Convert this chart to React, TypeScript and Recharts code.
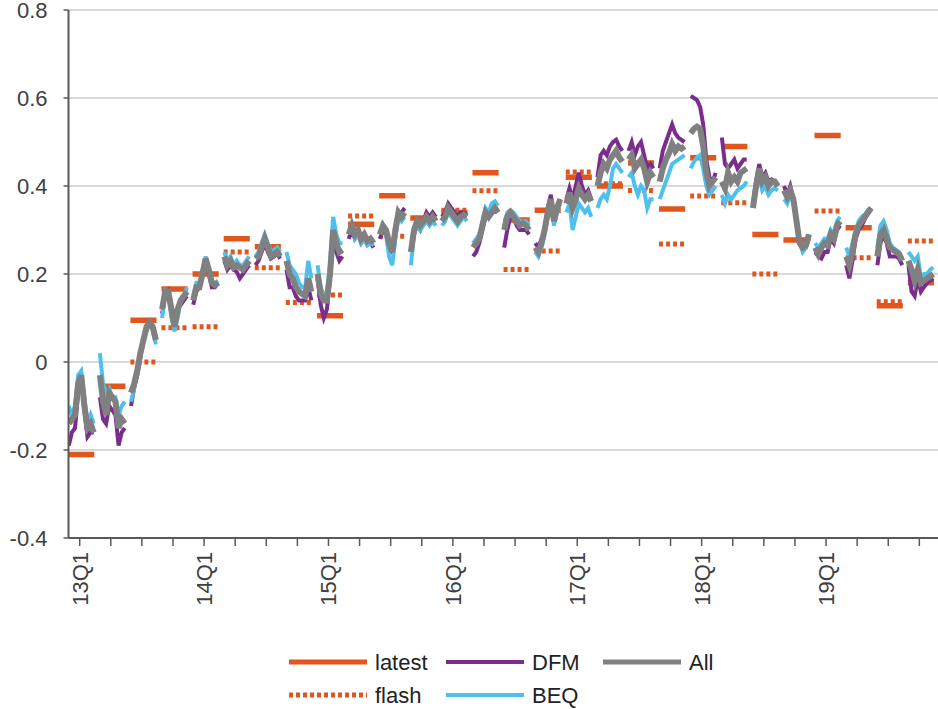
import React from "react"
import { LineChart, Line, XAxis, YAxis, CartesianGrid } from "recharts"

const quarters = [
  "13Q1", "13Q2", "13Q3", "13Q4", "14Q1", "14Q2", "14Q3", "14Q4",
  "15Q1", "15Q2", "15Q3", "15Q4", "16Q1", "16Q2", "16Q3", "16Q4",
  "17Q1", "17Q2", "17Q3", "17Q4", "18Q1", "18Q2", "18Q3", "18Q4",
  "19Q1", "19Q2", "19Q3", "19Q4",
]

// one value per quarter (null = not visible in the picture)
const latest: (number | null)[] = [
  -0.21, -0.055, 0.095, 0.166, 0.2, 0.28, 0.262, null,
  0.105, 0.313, 0.378, 0.327, 0.34, 0.43, 0.323, 0.345,
  0.42, 0.4, 0.452, 0.348, 0.464, 0.49, 0.29, 0.277,
  0.515, 0.305, 0.128, 0.18,
]

const flash: (number | null)[] = [
  null, null, 0.0, 0.078, 0.08, 0.25, 0.214, 0.135,
  0.152, 0.332, 0.286, null, 0.345, 0.389, 0.21, 0.252,
  0.432, 0.405, 0.39, 0.268, 0.377, 0.362, 0.2, null,
  0.343, 0.237, 0.137, 0.275,
]

// nowcasts made during each quarter (9 readings per quarter)
const dfm: number[][] = [
  [-0.19, -0.16, -0.15, -0.07, -0.04, -0.11, -0.17, -0.16, -0.16],
  [-0.08, -0.13, -0.14, -0.1, -0.11, -0.12, -0.19, -0.16, -0.15],
  [-0.1, -0.06, -0.03, 0.01, 0.05, 0.07, 0.09, 0.08, 0.05],
  [0.11, 0.15, 0.16, 0.11, 0.08, 0.12, 0.13, 0.14, 0.15],
  [0.13, 0.16, 0.17, 0.2, 0.23, 0.2, 0.17, 0.17, 0.18],
  [0.23, 0.21, 0.22, 0.21, 0.205, 0.19, 0.2, 0.21, 0.22],
  [0.22, 0.23, 0.25, 0.27, 0.25, 0.235, 0.24, 0.245, 0.235],
  [0.21, 0.17, 0.17, 0.15, 0.14, 0.14, 0.14, 0.17, 0.14],
  [0.19, 0.13, 0.1, 0.12, 0.19, 0.28, 0.25, 0.23, 0.24],
  [0.28, 0.3, 0.28, 0.29, 0.27, 0.28, 0.27, 0.27, 0.26],
  [0.28, 0.3, 0.29, 0.26, 0.25, 0.3, 0.34, 0.34, 0.35],
  [0.25, 0.29, 0.31, 0.3, 0.32, 0.34, 0.33, 0.34, 0.33],
  [0.33, 0.34, 0.36, 0.35, 0.34, 0.33, 0.34, 0.34, 0.335],
  [0.24, 0.25, 0.27, 0.3, 0.33, 0.33, 0.34, 0.35, 0.34],
  [0.26, 0.3, 0.33, 0.33, 0.31, 0.3, 0.3, 0.3, 0.29],
  [0.27, 0.26, 0.28, 0.3, 0.35, 0.38, 0.33, 0.35, 0.37],
  [0.37, 0.395, 0.37, 0.4, 0.43, 0.4, 0.38, 0.39, 0.37],
  [0.42, 0.47, 0.48, 0.47, 0.49, 0.5, 0.505, 0.49, 0.48],
  [0.48, 0.5, 0.47, 0.49, 0.5, 0.47, 0.44, 0.45, 0.44],
  [0.44, 0.48, 0.5, 0.52, 0.54, 0.52, 0.51, 0.505, 0.5],
  [0.605, 0.6, 0.595, 0.58, 0.54, 0.46, 0.42, 0.41, 0.43],
  [0.51, 0.45, 0.44, 0.45, 0.46, 0.44, 0.45, 0.46, 0.46],
  [0.36, 0.41, 0.45, 0.42, 0.43, 0.41, 0.415, 0.41, 0.4],
  [0.4, 0.38, 0.4, 0.37, 0.32, 0.27, 0.26, 0.26, 0.28],
  [0.25, 0.24, 0.235, 0.25, 0.25, 0.28, 0.27, 0.3, 0.31],
  [0.22, 0.19, 0.23, 0.28, 0.3, 0.31, 0.325, 0.34, 0.35],
  [0.22, 0.27, 0.29, 0.27, 0.24, 0.24, 0.24, 0.235, 0.22],
  [0.22, 0.16, 0.15, 0.19, 0.16, 0.17, 0.18, 0.185, 0.19],
]

const beq: number[][] = [
  [-0.1, -0.12, -0.1, -0.03, -0.02, -0.08, -0.14, -0.12, -0.14],
  [0.02, -0.05, -0.07, -0.06, -0.08, -0.08, -0.12, -0.1, -0.09],
  [-0.09, -0.06, -0.02, 0.02, 0.05, 0.08, 0.09, 0.07, 0.04],
  [0.1, 0.16, 0.15, 0.1, 0.07, 0.1, 0.14, 0.15, 0.17],
  [0.15, 0.18, 0.18, 0.21, 0.24, 0.21, 0.18, 0.18, 0.185],
  [0.25, 0.23, 0.24, 0.22, 0.23, 0.22, 0.22, 0.23, 0.24],
  [0.24, 0.25, 0.27, 0.29, 0.27, 0.25, 0.255, 0.26, 0.25],
  [0.25, 0.22, 0.21, 0.2, 0.18, 0.17, 0.17, 0.23, 0.19],
  [0.22, 0.17, 0.15, 0.16, 0.22, 0.33, 0.29, 0.27, 0.27],
  [0.29, 0.31, 0.28, 0.29, 0.27, 0.28, 0.265, 0.27, 0.265],
  [0.29, 0.31, 0.29, 0.24, 0.22, 0.28, 0.33, 0.32, 0.33],
  [0.22, 0.29, 0.31, 0.3, 0.31, 0.32, 0.31, 0.32, 0.31],
  [0.31, 0.32, 0.34, 0.33, 0.32, 0.31, 0.32, 0.33, 0.32],
  [0.27, 0.28, 0.29, 0.32, 0.35, 0.34, 0.36, 0.365, 0.355],
  [0.31, 0.34, 0.345, 0.34, 0.33, 0.32, 0.32, 0.32, 0.31],
  [0.25, 0.24, 0.26, 0.29, 0.33, 0.36, 0.31, 0.34, 0.36],
  [0.34, 0.36, 0.3, 0.33, 0.36, 0.35, 0.34, 0.35, 0.33],
  [0.35, 0.37, 0.38, 0.37, 0.4, 0.44, 0.45, 0.44, 0.43],
  [0.42, 0.43, 0.4, 0.38, 0.4, 0.39, 0.35, 0.37, 0.37],
  [0.37, 0.39, 0.41, 0.43, 0.45, 0.455, 0.46, 0.465, 0.47],
  [0.44, 0.455, 0.465, 0.47, 0.44, 0.4, 0.38, 0.39, 0.4],
  [0.38, 0.36, 0.38, 0.37, 0.38, 0.39, 0.395, 0.4, 0.41],
  [0.35, 0.39, 0.42, 0.39, 0.4, 0.38, 0.39, 0.395, 0.39],
  [0.37, 0.36, 0.38, 0.36, 0.32, 0.27, 0.25, 0.26, 0.29],
  [0.27, 0.26, 0.27, 0.28, 0.28, 0.3, 0.29, 0.32, 0.33],
  [0.26, 0.24, 0.27, 0.3, 0.32, 0.33, 0.335, 0.345, 0.35],
  [0.26, 0.31, 0.32, 0.3, 0.27, 0.26, 0.255, 0.25, 0.235],
  [0.25, 0.24, 0.23, 0.24, 0.19, 0.2, 0.2, 0.21, 0.215],
]

const all: number[][] = [
  [-0.14, -0.13, -0.12, -0.05, -0.03, -0.1, -0.15, -0.14, -0.16],
  [-0.03, -0.09, -0.12, -0.07, -0.08, -0.09, -0.15, -0.13, -0.14],
  [-0.07, -0.05, -0.02, 0.02, 0.05, 0.08, 0.09, 0.08, 0.05],
  [0.12, 0.16, 0.16, 0.12, 0.08, 0.12, 0.14, 0.15, 0.16],
  [0.14, 0.17, 0.17, 0.2, 0.235, 0.21, 0.18, 0.175, 0.18],
  [0.24, 0.22, 0.23, 0.215, 0.22, 0.215, 0.21, 0.22, 0.23],
  [0.235, 0.24, 0.26, 0.28, 0.26, 0.24, 0.245, 0.25, 0.24],
  [0.23, 0.2, 0.19, 0.17, 0.16, 0.155, 0.15, 0.19, 0.16],
  [0.2, 0.155, 0.14, 0.14, 0.2, 0.3, 0.27, 0.25, 0.255],
  [0.29, 0.31, 0.29, 0.3, 0.28, 0.29, 0.275, 0.28, 0.27],
  [0.29, 0.31, 0.3, 0.27, 0.25, 0.3, 0.34, 0.33, 0.34],
  [0.25, 0.3, 0.32, 0.31, 0.32, 0.33, 0.32, 0.33, 0.32],
  [0.32, 0.33, 0.35, 0.34, 0.33, 0.32, 0.33, 0.335, 0.33],
  [0.26, 0.27, 0.28, 0.31, 0.34, 0.33, 0.34, 0.35, 0.34],
  [0.3, 0.33, 0.34, 0.33, 0.32, 0.31, 0.315, 0.31, 0.3],
  [0.26, 0.25, 0.27, 0.3, 0.34, 0.37, 0.32, 0.35, 0.37],
  [0.36, 0.385, 0.35, 0.37, 0.395, 0.38, 0.37, 0.38, 0.365],
  [0.4, 0.43, 0.45, 0.44, 0.46, 0.47, 0.48, 0.465, 0.455],
  [0.46, 0.47, 0.44, 0.45, 0.46, 0.44, 0.41, 0.43, 0.42],
  [0.41, 0.44, 0.46, 0.475, 0.495, 0.48, 0.49, 0.485, 0.49],
  [0.52, 0.53, 0.535, 0.53, 0.49, 0.43, 0.4, 0.41, 0.42],
  [0.41, 0.395, 0.43, 0.41, 0.42, 0.41, 0.43, 0.435, 0.44],
  [0.35, 0.4, 0.44, 0.41, 0.42, 0.4, 0.41, 0.41, 0.4],
  [0.39, 0.375, 0.39, 0.37, 0.32, 0.27, 0.26, 0.265, 0.29],
  [0.26, 0.245, 0.26, 0.27, 0.265, 0.29, 0.28, 0.31, 0.32],
  [0.24, 0.22, 0.25, 0.29, 0.31, 0.32, 0.33, 0.34, 0.35],
  [0.24, 0.29, 0.3, 0.28, 0.26, 0.255, 0.25, 0.245, 0.23],
  [0.23, 0.21, 0.185, 0.21, 0.18, 0.185, 0.19, 0.195, 0.2],
]

const yTicks = [-0.4, -0.2, 0, 0.2, 0.4, 0.6, 0.8]

const ORANGE = "#E0561D"
const PURPLE = "#7B2D8E"
const BLUE = "#4EC0EE"
const GRAY = "#808080"
const AXIS = "#595959"
const FONT = "'Liberation Sans', Arial, sans-serif"

type Row = { x: number; v: number | null }

// a flat bar spanning each quarter
const quarterBars = (values: (number | null)[]): Row[] => {
  const rows: Row[] = []
  values.forEach((v, q) => {
    if (v === null) return
    rows.push({ x: q - 0.37, v }, { x: q + 0.47, v }, { x: q + 0.5, v: null })
  })
  return rows
}

// the nowcasts of each quarter, broken between quarters
const nowcastRows = (series: number[][]): Row[] => {
  const rows: Row[] = []
  series.forEach((vals, q) => {
    vals.forEach((v, k) => rows.push({ x: q - 0.35 + k * 0.1, v }))
    rows.push({ x: q + 0.5, v: null })
  })
  return rows
}

const QuarterTick = (props: any) => {
  const { x, y, payload } = props
  const q = payload.value as number
  if (q % 4 !== 0) return null
  const ty = y + 4
  return (
    <text
      x={x}
      y={ty}
      transform={`rotate(-90, ${x}, ${ty})`}
      textAnchor="end"
      dy="0.36em"
      fill="#404040"
      fontSize={22}
      fontFamily={FONT}
    >
      {quarters[q]}
    </text>
  )
}

const legendRows = [
  [
    { name: "latest", color: ORANGE, width: 5, dash: undefined },
    { name: "DFM", color: PURPLE, width: 4, dash: undefined },
    { name: "All", color: GRAY, width: 5, dash: undefined },
  ],
  [
    { name: "flash", color: ORANGE, width: 5, dash: "4 3" },
    { name: "BEQ", color: BLUE, width: 4, dash: undefined },
  ],
]

const ChartLegend = () => (
  <svg width={938} height={69} style={{ position: "absolute", left: 0, top: 640 }}>
    {legendRows.map((row, r) =>
      row.map((item, i) => {
        const x0 = 289 + i * 157
        const y0 = 22 + r * 33
        return (
          <g key={item.name}>
            <line
              x1={x0}
              x2={x0 + 78}
              y1={y0}
              y2={y0}
              stroke={item.color}
              strokeWidth={item.width}
              strokeDasharray={item.dash}
            />
            <text x={x0 + 86} y={y0 + 8} fontSize={22} fontFamily={FONT} fill="#222">
              {item.name}
            </text>
          </g>
        )
      })
    )}
  </svg>
)

export default function App() {
  const latestRows = quarterBars(latest)
  const flashRows = quarterBars(flash)
  const dfmRows = nowcastRows(dfm)
  const beqRows = nowcastRows(beq)
  const allRows = nowcastRows(all)

  return (
    <div style={{ position: "absolute", left: 0, top: 0, width: 938, height: 709, background: "#fff" }}>
      <LineChart width={938} height={709} margin={{ top: 10, right: 0, bottom: 72, left: 0 }}>
        <CartesianGrid vertical={false} stroke="#D9D9D9" strokeWidth={2} />
        <XAxis
          dataKey="x"
          type="number"
          domain={[-0.36, 27.6]}
          allowDataOverflow
          ticks={quarters.map((_, i) => i)}
          interval={0}
          height={99}
          tick={<QuarterTick />}
          tickSize={8}
          tickLine={{ stroke: AXIS, strokeWidth: 1.5 }}
          axisLine={{ stroke: AXIS, strokeWidth: 2 }}
        />
        <YAxis
          type="number"
          domain={[-0.4, 0.8]}
          ticks={yTicks}
          interval={0}
          width={68.5}
          tickSize={5}
          tickMargin={16}
          tickFormatter={(v: number) => (v === 0 ? "0" : String(v))}
          tick={{ fill: "#404040", fontSize: 22, fontFamily: FONT }}
          tickLine={{ stroke: AXIS, strokeWidth: 1.5 }}
          axisLine={{ stroke: AXIS, strokeWidth: 2 }}
        />
        <Line data={latestRows} dataKey="v" name="latest" stroke={ORANGE} strokeWidth={5.5} dot={false} activeDot={false} isAnimationActive={false} />
        <Line data={flashRows} dataKey="v" name="flash" stroke={ORANGE} strokeWidth={5} strokeDasharray="4 3" dot={false} activeDot={false} isAnimationActive={false} />
        <Line data={dfmRows} dataKey="v" name="DFM" stroke={PURPLE} strokeWidth={4} dot={false} activeDot={false} isAnimationActive={false} />
        <Line data={beqRows} dataKey="v" name="BEQ" stroke={BLUE} strokeWidth={4} dot={false} activeDot={false} isAnimationActive={false} />
        <Line data={allRows} dataKey="v" name="All" stroke={GRAY} strokeWidth={6} dot={false} activeDot={false} isAnimationActive={false} />
      </LineChart>
      <ChartLegend />
    </div>
  )
}
